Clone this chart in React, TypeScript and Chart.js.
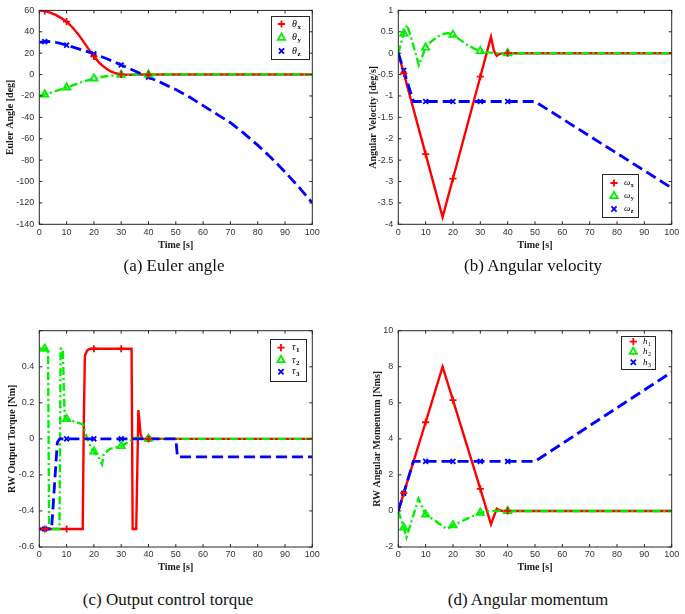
import { useEffect, useRef } from "react";
import { Chart, registerables } from "chart.js";

Chart.register(...registerables);

const RED = "#ff0000";
const GREEN = "#00f000";
const BLUE = "#0000ff";

// Samples at which the series markers sit
const markerTimes = [2, 10, 20, 30, 40];

// (a) Euler angle [deg]
const thetaXT = [0, 2, 4, 6, 8, 10, 12, 14, 16, 18, 20, 22, 24, 26, 28, 30, 32, 34, 36, 40, 100];
const thetaX = [60, 59.5, 58, 55.8, 52.8, 49.5, 44.5, 38.5, 31.5, 24, 17, 11, 6.5, 3.2, 1.2, 0.2, -0.2, -0.1, 0, 0, 0];
const thetaYT = [0, 2, 5, 10, 15, 20, 25, 30, 35, 40, 100];
const thetaY = [-20, -18.6, -16.2, -12, -7.6, -3.6, -1.3, -0.2, 0, 0, 0];
const thetaZT = [0, 2, 3, 6, 10, 15, 20, 25, 30, 35, 40, 45, 50, 55, 60, 65, 70, 75, 80, 85, 90, 95, 100];
const thetaZ = [30, 30.8, 31, 30.2, 27.5, 23.5, 19.5, 14.5, 9, 3.3, -2.5, -8, -14, -21, -29, -37, -45, -55, -66, -78, -91, -105, -120];

// (b) Angular velocity [deg/s]
const omegaXT = [0, 2, 10, 16.2, 20, 30, 33.9, 35, 36, 37, 38, 40, 100];
const omegaX = [0, -0.47, -2.36, -3.83, -2.93, -0.55, 0.38, 0.05, -0.06, -0.02, 0, 0, 0];
const omegaYT = [0, 2, 3.2, 5, 7.5, 10, 12, 14, 16, 18, 20, 22, 25, 28, 30, 33, 36, 40, 100];
const omegaY = [0, 0.46, 0.66, 0.3, -0.28, 0.13, 0.27, 0.37, 0.44, 0.47, 0.43, 0.34, 0.2, 0.1, 0.05, 0.02, 0, 0, 0];
const omegaZT = [0, 2, 5.5, 10, 20, 30, 40, 50, 100];
const omegaZ = [0, -0.4, -1.13, -1.13, -1.13, -1.13, -1.13, -1.13, -3.15];

// (c) Reaction wheel output torque [Nm]
const tau1T = [0, 2, 10, 15.9, 16.3, 16.7, 17.5, 18.5, 20, 30, 33.8, 34.2, 35.5, 36.3, 37.1, 37.6, 40, 100];
const tau1 = [-0.5, -0.5, -0.5, -0.5, 0.1, 0.46, 0.49, 0.5, 0.5, 0.5, 0.5, -0.5, -0.5, 0.16, 0.03, 0, 0, 0];
const tau2T = [0, 2, 3.2, 3.6, 7.4, 7.8, 8.6, 9.3, 10, 13, 16, 18, 20, 22, 23, 23.6, 26, 30, 33, 35, 36, 38, 40, 100];
const tau2 = [0.5, 0.5, 0.5, -0.5, -0.5, 0.5, 0.5, 0.12, 0.11, 0.095, 0.08, -0.02, -0.07, -0.11, -0.14, -0.08, -0.055, -0.04, -0.015, 0.005, 0.008, 0, 0, 0];
const tau3T = [0, 2, 4.5, 6.6, 7.5, 10, 20, 30, 40, 50, 50.6, 100];
const tau3 = [-0.5, -0.5, -0.5, -0.02, 0, 0, 0, 0, 0, 0, -0.1, -0.1];

// (d) Reaction wheel angular momentum [Nms]
const h1T = [0, 2, 10, 16.2, 20, 30, 33.9, 36, 37, 38, 40, 100];
const h1 = [0, 0.99, 4.92, 8.0, 6.15, 1.22, -0.74, 0.12, 0.04, 0, 0, 0];
const h2T = [0, 2, 3, 7.4, 10, 14, 17.7, 20, 25, 30, 33, 36, 40, 100];
const h2 = [0, -0.92, -1.45, 0.68, -0.2, -0.6, -1.0, -0.8, -0.44, -0.1, -0.02, 0, 0, 0];
const h3T = [0, 2, 5.5, 10, 20, 30, 40, 50, 100];
const h3 = [0, 0.98, 2.75, 2.75, 2.75, 2.75, 2.75, 2.75, 7.7];

type Shape = "plus" | "triangle" | "cross";

type Series = {
  t: number[];
  v: number[];
  color: string;
  dash: number[];
  width: number;
  shape: Shape;
  base: string;
  sub: string;
};

type LegendBox = {
  x: number;
  y: number;
  w: number;
  h: number;
  rows: number[];
  mx: number;
  tx: number;
  size: number;
  subBold: boolean;
};

type Panel = {
  key: string;
  left: number;
  top: number;
  width: number;
  height: number;
  area: { l: number; t: number; r: number; b: number };
  yMin: number;
  yMax: number;
  yStep: number;
  yHide: number[];
  yTitle: string;
  yTitleX: number;
  xTitleY: number;
  series: Series[];
  legend: LegendBox;
};

const SOLID: number[] = [];
const DASH = [11, 5];
const DASHDOT = [8, 3, 2, 3];

const trio = (
  a: [number[], number[]],
  b: [number[], number[]],
  c: [number[], number[]],
  base: string,
  subs: string[]
): Series[] => [
  { t: a[0], v: a[1], color: RED, dash: SOLID, width: 2.4, shape: "plus", base, sub: subs[0] },
  { t: b[0], v: b[1], color: GREEN, dash: DASHDOT, width: 2.4, shape: "triangle", base, sub: subs[1] },
  { t: c[0], v: c[1], color: BLUE, dash: DASH, width: 2.8, shape: "cross", base, sub: subs[2] },
];

const panels: Panel[] = [
  {
    key: "a",
    left: 0,
    top: 0,
    width: 330,
    height: 258,
    area: { l: 39.3, t: 8.3, r: 312.3, b: 224.3 },
    yMin: -140,
    yMax: 60,
    yStep: 20,
    yHide: [],
    yTitle: "Euler Angle [deg]",
    yTitleX: 10,
    xTitleY: 245.7,
    series: trio([thetaXT, thetaX], [thetaYT, thetaY], [thetaZT, thetaZ], "θ", ["x", "y", "z"]),
    legend: { x: 271, y: 16, w: 38, h: 43, rows: [24, 37.7, 51], mx: 281.5, tx: 292, size: 10, subBold: true },
  },
  {
    key: "b",
    left: 340,
    top: 0,
    width: 345,
    height: 258,
    area: { l: 58.3, t: 8.3, r: 331.7, b: 224.3 },
    yMin: -4,
    yMax: 1,
    yStep: 0.5,
    yHide: [],
    yTitle: "Angular Velocity [deg/s]",
    yTitleX: 33,
    xTitleY: 245.7,
    series: trio([omegaXT, omegaX], [omegaYT, omegaY], [omegaZT, omegaZ], "ω", ["x", "y", "z"]),
    legend: { x: 262, y: 174, w: 36, h: 43, rows: [183, 196, 209], mx: 274, tx: 284, size: 9, subBold: true },
  },
  {
    key: "c",
    left: 0,
    top: 300,
    width: 330,
    height: 280,
    area: { l: 39.3, t: 30.7, r: 312.3, b: 247 },
    yMin: -0.6,
    yMax: 0.6,
    yStep: 0.2,
    yHide: [0.6],
    yTitle: "RW Output Torque [Nm]",
    yTitleX: 12.7,
    xTitleY: 267.7,
    series: trio([tau1T, tau1], [tau2T, tau2], [tau3T, tau3], "τ", ["1", "2", "3"]),
    legend: { x: 270, y: 39, w: 36, h: 42, rows: [47.7, 60, 71.7], mx: 281, tx: 292, size: 10, subBold: true },
  },
  {
    key: "d",
    left: 340,
    top: 300,
    width: 345,
    height: 280,
    area: { l: 58.3, t: 30.7, r: 331.7, b: 247 },
    yMin: -2,
    yMax: 10,
    yStep: 2,
    yHide: [],
    yTitle: "RW Angular Momentum [Nms]",
    yTitleX: 37.3,
    xTitleY: 267.7,
    series: trio([h1T, h1], [h2T, h2], [h3T, h3], "h", ["1", "2", "3"]),
    legend: { x: 281, y: 36, w: 34, h: 33, rows: [41.7, 51.7, 62.3], mx: 293.3, tx: 303, size: 9, subBold: false },
  },
];

const captions = [
  { text: "(a) Euler angle", cx: 174, cy: 266 },
  { text: "(b) Angular velocity", cx: 533, cy: 266 },
  { text: "(c) Output control torque", cx: 168, cy: 600 },
  { text: "(d) Angular momentum", cx: 528, cy: 600 },
];

const POINT_STYLE: Record<Shape, string> = { plus: "cross", triangle: "triangle", cross: "crossRot" };
const POINT_RADIUS: Record<Shape, number> = { plus: 3.6, triangle: 4.2, cross: 3.4 };

const TICK_FONT = { family: "'Liberation Sans', Arial, sans-serif", size: 9 };
const TITLE_FONT = { family: "'Liberation Serif', 'Times New Roman', serif", size: 10, weight: "bold" as const };

function drawMarker(ctx: CanvasRenderingContext2D, shape: Shape, x: number, y: number, color: string) {
  ctx.save();
  ctx.strokeStyle = color;
  ctx.lineWidth = 1.8;
  ctx.beginPath();
  if (shape === "plus") {
    const r = 3.6;
    ctx.moveTo(x - r, y);
    ctx.lineTo(x + r, y);
    ctx.moveTo(x, y - r);
    ctx.lineTo(x, y + r);
  } else if (shape === "cross") {
    const r = 2.6;
    ctx.moveTo(x - r, y - r);
    ctx.lineTo(x + r, y + r);
    ctx.moveTo(x + r, y - r);
    ctx.lineTo(x - r, y + r);
  } else {
    const r = 4.2;
    ctx.moveTo(x, y - r);
    ctx.lineTo(x + r * 0.87, y + r * 0.5);
    ctx.lineTo(x - r * 0.87, y + r * 0.5);
    ctx.closePath();
  }
  ctx.stroke();
  ctx.restore();
}

// Box outline with inward tick marks on all four sides
const axesFrame = {
  id: "axesFrame",
  afterDatasetsDraw(chart: any) {
    const { ctx, chartArea: a, scales } = chart;
    const L = 3;
    ctx.save();
    ctx.strokeStyle = "#262626";
    ctx.lineWidth = 1;
    ctx.strokeRect(a.left, a.top, a.right - a.left, a.bottom - a.top);
    ctx.beginPath();
    for (const t of scales.x.ticks) {
      const px = scales.x.getPixelForValue(t.value);
      ctx.moveTo(px, a.bottom);
      ctx.lineTo(px, a.bottom - L);
      ctx.moveTo(px, a.top);
      ctx.lineTo(px, a.top + L);
    }
    for (const t of scales.y.ticks) {
      const py = scales.y.getPixelForValue(t.value);
      ctx.moveTo(a.left, py);
      ctx.lineTo(a.left + L, py);
      ctx.moveTo(a.right, py);
      ctx.lineTo(a.right - L, py);
    }
    ctx.stroke();
    ctx.restore();
  },
};

// Boxed legend with symbol-only keys and subscripted labels
const boxLegend = {
  id: "boxLegend",
  afterDraw(chart: any, _args: any, opts: any) {
    const lg: LegendBox = opts.box;
    const series: Series[] = opts.series;
    if (!lg || !series) return;
    const { ctx } = chart;
    ctx.save();
    ctx.fillStyle = "#ffffff";
    ctx.fillRect(lg.x, lg.y, lg.w, lg.h);
    ctx.strokeStyle = "#262626";
    ctx.lineWidth = 1;
    ctx.strokeRect(lg.x + 0.5, lg.y + 0.5, lg.w, lg.h);
    series.forEach((s, i) => {
      const y = lg.rows[i];
      drawMarker(ctx, s.shape, lg.mx, y, s.color);
      ctx.fillStyle = "#000000";
      ctx.textBaseline = "middle";
      ctx.textAlign = "left";
      ctx.font = `italic ${lg.size}px 'Liberation Serif', serif`;
      ctx.fillText(s.base, lg.tx, y);
      const w = ctx.measureText(s.base).width;
      ctx.font = `${lg.subBold ? "bold " : ""}${Math.round(lg.size * 0.72)}px 'Liberation Serif', serif`;
      ctx.fillText(s.sub, lg.tx + w + 0.5, y + 2.8);
    });
    ctx.restore();
  },
};

function pts(t: number[], v: number[]) {
  return t.map((x, i) => ({ x, y: v[i] }));
}

function marks(t: number[], v: number[]) {
  return markerTimes
    .map((m) => t.indexOf(m))
    .filter((i) => i >= 0)
    .map((i) => ({ x: t[i], y: v[i] }));
}

function buildConfig(p: Panel): any {
  const lineSets = p.series.map((s, i) => ({
    label: s.base + s.sub,
    data: pts(s.t, s.v),
    borderColor: s.color,
    borderWidth: s.width,
    borderDash: s.dash,
    borderCapStyle: "butt",
    pointRadius: 0,
    fill: false,
    tension: 0,
    order: 10 - i,
  }));
  const markSets = p.series.map((s) => ({
    label: s.base + s.sub + " markers",
    data: marks(s.t, s.v),
    showLine: false,
    pointStyle: POINT_STYLE[s.shape],
    pointRadius: POINT_RADIUS[s.shape],
    pointBorderColor: s.color,
    pointBackgroundColor: "rgba(0,0,0,0)",
    pointBorderWidth: 1.8,
    borderColor: s.color,
    order: 0,
  }));
  const fmt = (v: number) => String(+Number(v).toFixed(3));
  return {
    type: "line",
    data: { datasets: [...lineSets, ...markSets] },
    plugins: [axesFrame, boxLegend],
    options: {
      animation: false,
      responsive: false,
      devicePixelRatio: 1,
      events: [],
      layout: {
        padding: { left: 0, top: p.area.t, right: p.width - p.area.r, bottom: 0 },
      },
      scales: {
        x: {
          type: "linear",
          min: 0,
          max: 100,
          grid: { display: false, drawTicks: false },
          border: { display: false },
          ticks: { stepSize: 10, padding: 2.6, color: "#333333", font: TICK_FONT, maxRotation: 0 },
          title: {
            display: true,
            text: "Time [s]",
            color: "#1a1a1a",
            font: TITLE_FONT,
            padding: { top: 0, bottom: p.height - 6 - p.xTitleY },
          },
          afterFit: (s: any) => {
            s.height = p.height - p.area.b;
          },
        },
        y: {
          type: "linear",
          min: p.yMin,
          max: p.yMax,
          grid: { display: false, drawTicks: false },
          border: { display: false },
          ticks: {
            stepSize: p.yStep,
            padding: 5,
            color: "#333333",
            font: TICK_FONT,
            callback: (v: number) => (p.yHide.some((h) => Math.abs(h - v) < 1e-9) ? "" : fmt(v)),
          },
          title: {
            display: true,
            text: p.yTitle,
            color: "#1a1a1a",
            font: TITLE_FONT,
            padding: { top: p.yTitleX - 6, bottom: 0 },
          },
          afterFit: (s: any) => {
            s.width = p.area.l;
          },
        },
      },
      plugins: {
        legend: { display: false },
        tooltip: { enabled: false },
        boxLegend: { box: p.legend, series: p.series },
      },
    },
  };
}

function PanelChart({ panel }: { panel: Panel }) {
  const ref = useRef<HTMLCanvasElement | null>(null);
  useEffect(() => {
    if (!ref.current) return;
    const chart = new Chart(ref.current, buildConfig(panel));
    return () => chart.destroy();
  }, [panel]);
  return (
    <canvas
      ref={ref}
      width={panel.width}
      height={panel.height}
      style={{ position: "absolute", left: panel.left, top: panel.top, width: panel.width, height: panel.height }}
    />
  );
}

export default function App() {
  return (
    <div style={{ position: "absolute", left: 0, top: 0, width: 685, height: 614, background: "#ffffff", overflow: "hidden" }}>
      {panels.map((p) => (
        <PanelChart key={p.key} panel={p} />
      ))}
      {captions.map((c) => (
        <div
          key={c.text}
          style={{
            position: "absolute",
            left: c.cx - 150,
            top: c.cy - 11,
            width: 300,
            height: 22,
            lineHeight: "22px",
            textAlign: "center",
            fontFamily: "'Liberation Serif', 'Times New Roman', serif",
            fontSize: 17,
            color: "#111111",
            whiteSpace: "nowrap",
          }}
        >
          {c.text}
        </div>
      ))}
    </div>
  );
}
